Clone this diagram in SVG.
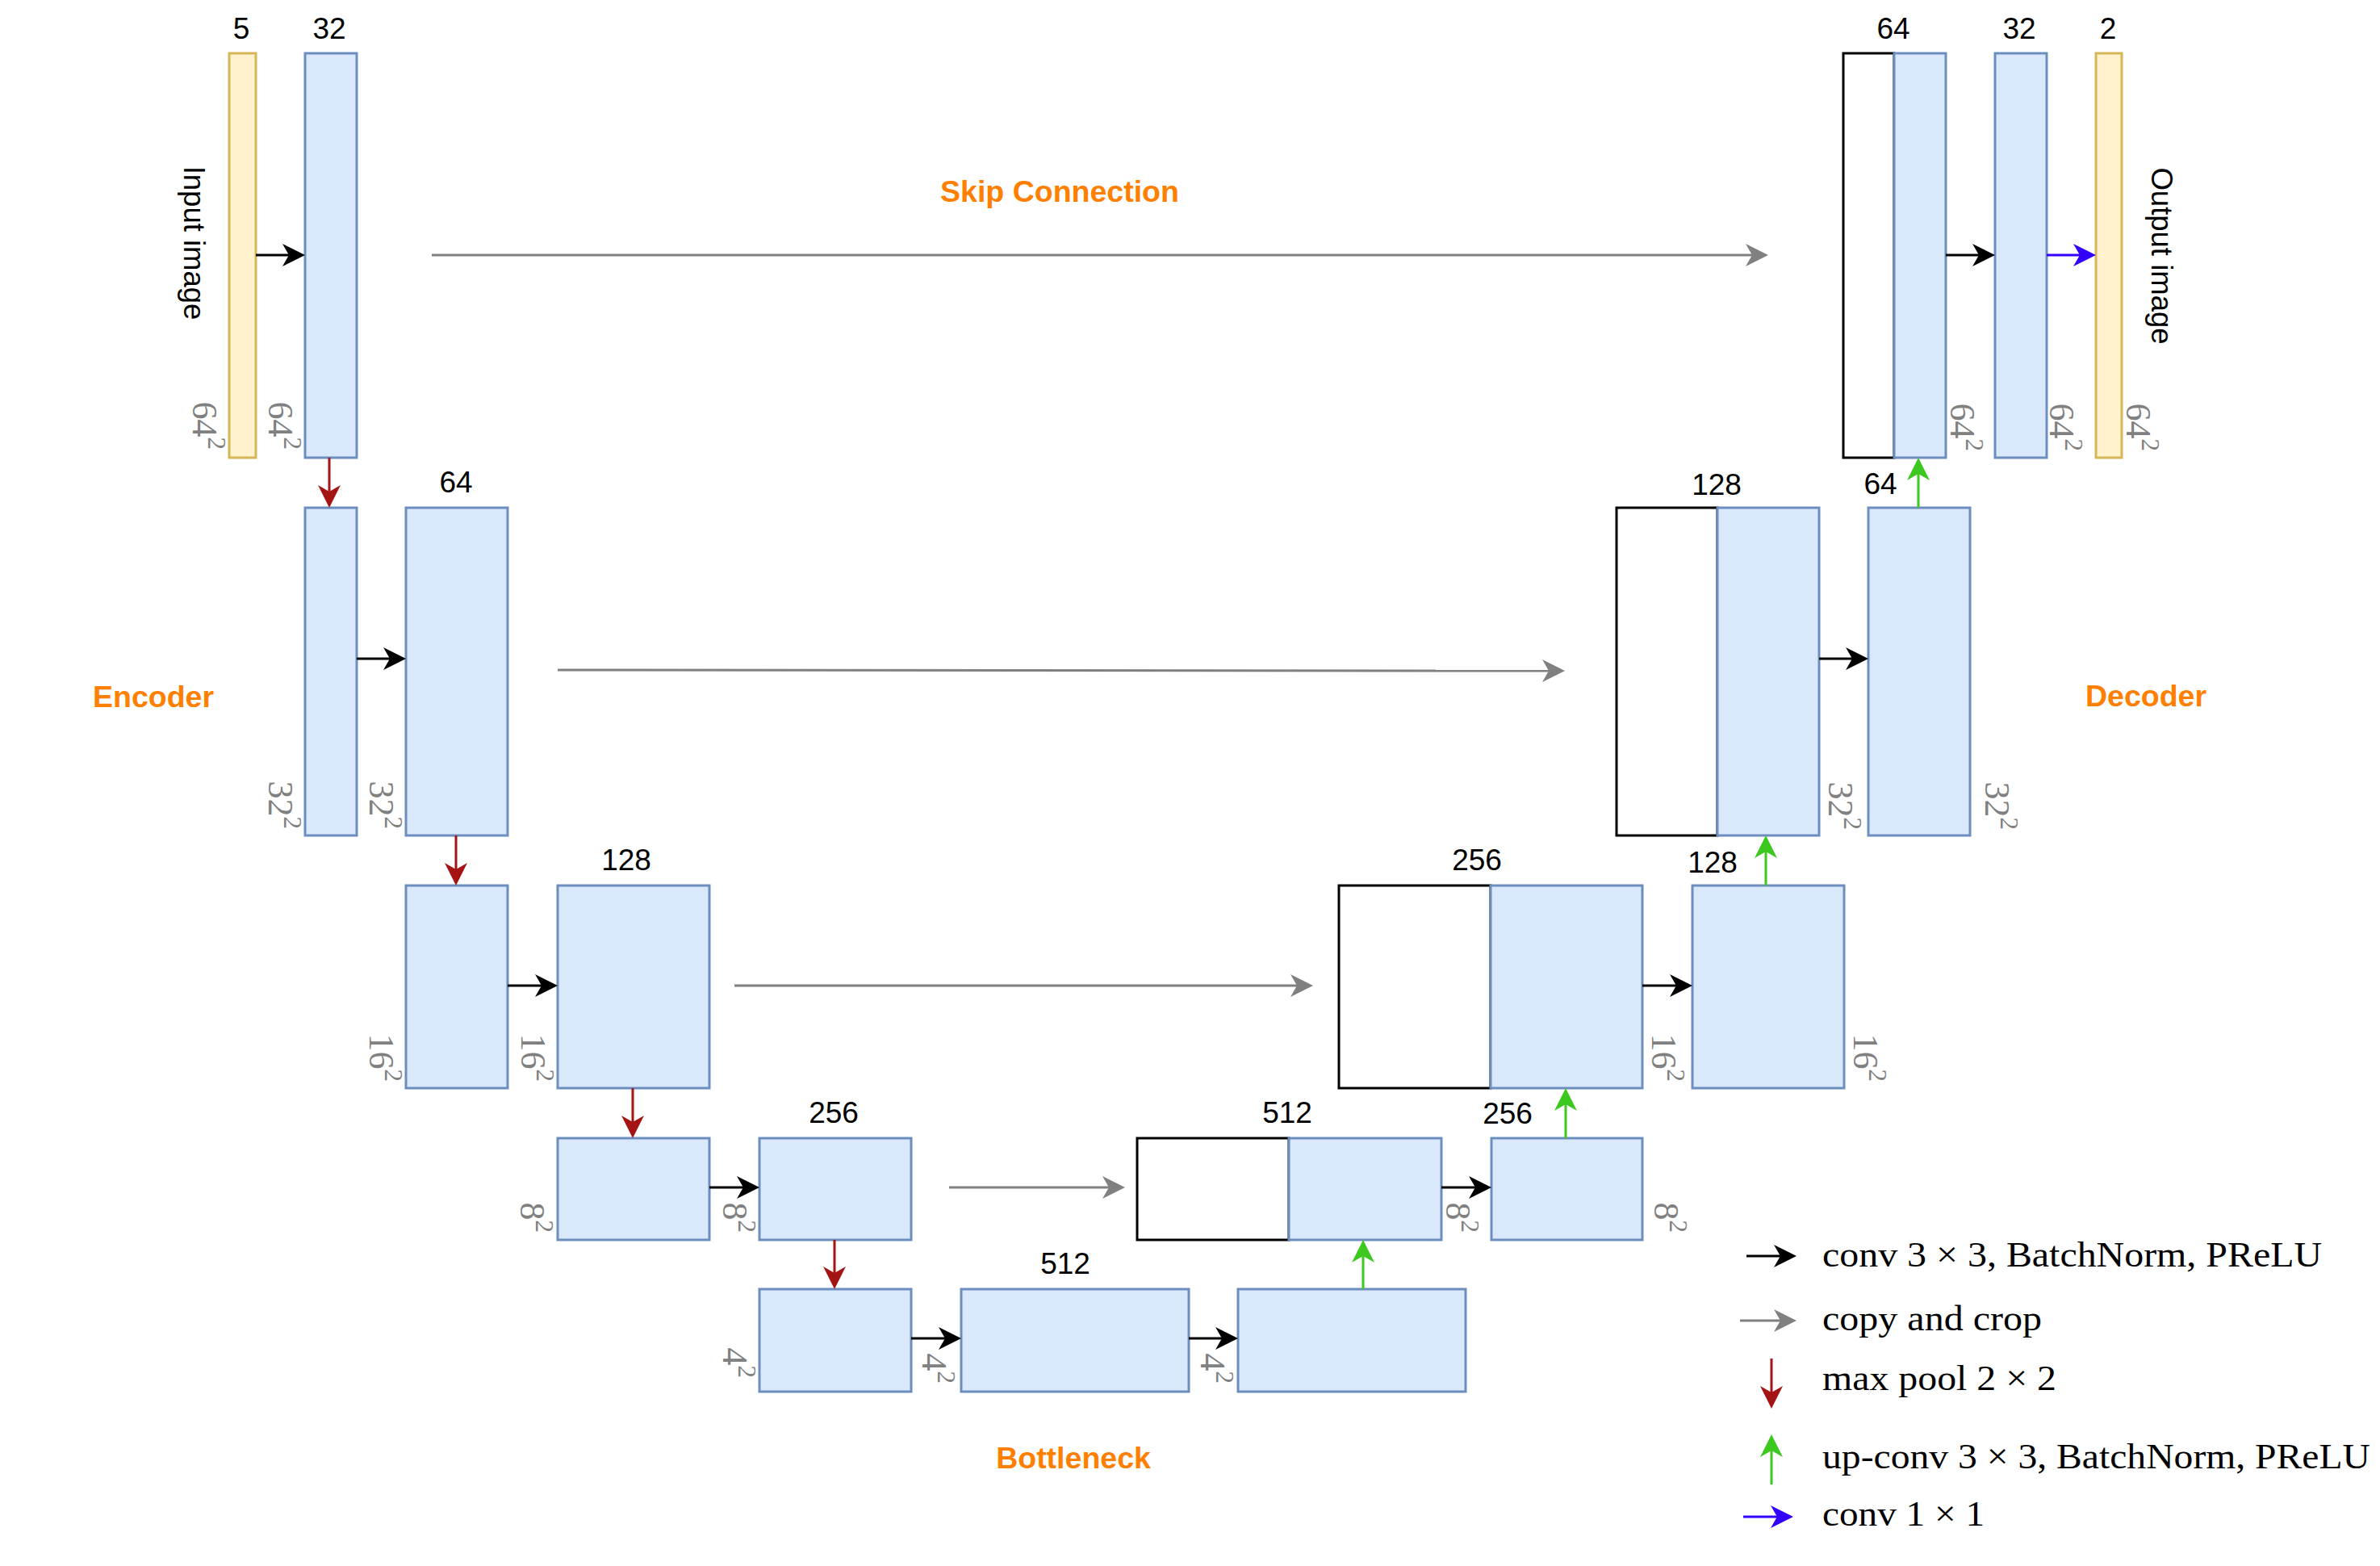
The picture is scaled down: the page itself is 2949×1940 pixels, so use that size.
<svg xmlns="http://www.w3.org/2000/svg" width="2949" height="1940" viewBox="0 0 2949 1940">
<style>
.bl{fill:#dae8fc;stroke:#6c8ebf;stroke-width:3}
.yl{fill:#fff2cc;stroke:#d6b656;stroke-width:3}
.wh{fill:#ffffff;stroke:#000000;stroke-width:3}
.num{font-family:"Liberation Sans",Arial,sans-serif;font-size:37px;fill:#000;text-anchor:middle}
.sec{font-family:"Liberation Sans",Arial,sans-serif;font-size:37.5px;font-weight:bold;fill:#ff8000;text-anchor:middle}
.dim{font-family:"Liberation Serif","Times New Roman",serif;font-size:44px;fill:#808080;text-anchor:end}
.sup{font-size:31px}
.leg{font-family:"Liberation Serif","Times New Roman",serif;font-size:44px;fill:#000}
.side{font-family:"Liberation Sans",Arial,sans-serif;font-size:36.5px;fill:#000;text-anchor:middle}
.k{stroke:#000;stroke-width:3;fill:none;marker-end:url(#ak)}
.g{stroke:#808080;stroke-width:3;fill:none;marker-end:url(#ag)}
.r{stroke:#a51414;stroke-width:3;fill:none;marker-end:url(#ar)}
.gr{stroke:#3cc81e;stroke-width:3;fill:none;marker-end:url(#agr)}
.b{stroke:#3300ff;stroke-width:3;fill:none;marker-end:url(#ab)}
</style>
<defs>
<marker id="ak" viewBox="0 0 28 28" refX="18" refY="14" markerWidth="28" markerHeight="28" markerUnits="userSpaceOnUse" orient="auto"><path d="M0,0 L28,14 L0,28 L8,14 Z" fill="#000"/></marker>
<marker id="ag" viewBox="0 0 28 28" refX="18" refY="14" markerWidth="28" markerHeight="28" markerUnits="userSpaceOnUse" orient="auto"><path d="M0,0 L28,14 L0,28 L8,14 Z" fill="#808080"/></marker>
<marker id="ar" viewBox="0 0 28 28" refX="18" refY="14" markerWidth="28" markerHeight="28" markerUnits="userSpaceOnUse" orient="auto"><path d="M0,0 L28,14 L0,28 L8,14 Z" fill="#a51414"/></marker>
<marker id="agr" viewBox="0 0 28 28" refX="18" refY="14" markerWidth="28" markerHeight="28" markerUnits="userSpaceOnUse" orient="auto"><path d="M0,0 L28,14 L0,28 L8,14 Z" fill="#3cc81e"/></marker>
<marker id="ab" viewBox="0 0 28 28" refX="18" refY="14" markerWidth="28" markerHeight="28" markerUnits="userSpaceOnUse" orient="auto"><path d="M0,0 L28,14 L0,28 L8,14 Z" fill="#3300ff"/></marker>
</defs>
<rect width="2949" height="1940" fill="#ffffff"/>

<!-- Encoder nodes -->
<g id="input">
<rect class="yl" x="284" y="66" width="33" height="501"/>
<text class="num" x="299" y="48">5</text>
<text class="side" transform="translate(228,301) rotate(90)">Input image</text>
<text class="dim" transform="translate(239,557) rotate(90)">64<tspan class="sup" dy="-19">2</tspan></text>
</g>
<g id="enc1">
<rect class="bl" x="378" y="66" width="64" height="501"/>
<text class="num" x="408" y="48">32</text>
<text class="dim" transform="translate(333,557) rotate(90)">64<tspan class="sup" dy="-19">2</tspan></text>
</g>
<g id="enc2a">
<rect class="bl" x="378" y="629" width="64" height="406"/>
<text class="dim" transform="translate(333,1027) rotate(90)">32<tspan class="sup" dy="-19">2</tspan></text>
</g>
<g id="enc2b">
<rect class="bl" x="503" y="629" width="126" height="406"/>
<text class="num" x="565" y="610">64</text>
<text class="dim" transform="translate(458,1027) rotate(90)">32<tspan class="sup" dy="-19">2</tspan></text>
</g>
<g id="enc3a">
<rect class="bl" x="503" y="1097" width="126" height="251"/>
<text class="dim" transform="translate(458,1340) rotate(90)">16<tspan class="sup" dy="-19">2</tspan></text>
</g>
<g id="enc3b">
<rect class="bl" x="691" y="1097" width="188" height="251"/>
<text class="num" x="776" y="1078">128</text>
<text class="dim" transform="translate(646,1340) rotate(90)">16<tspan class="sup" dy="-19">2</tspan></text>
</g>
<g id="enc4a">
<rect class="bl" x="691" y="1410" width="188" height="126"/>
<text class="dim" transform="translate(645,1527) rotate(90)">8<tspan class="sup" dy="-19">2</tspan></text>
</g>
<g id="enc4b">
<rect class="bl" x="941" y="1410" width="188" height="126"/>
<text class="num" x="1033" y="1391">256</text>
<text class="dim" transform="translate(896,1527) rotate(90)">8<tspan class="sup" dy="-19">2</tspan></text>
</g>

<!-- Bottleneck nodes -->
<g id="bott1">
<rect class="bl" x="941" y="1597" width="188" height="127"/>
<text class="dim" transform="translate(896,1707) rotate(90)">4<tspan class="sup" dy="-19">2</tspan></text>
</g>
<g id="bott2">
<rect class="bl" x="1191" y="1597" width="282" height="127"/>
<text class="num" x="1320" y="1578">512</text>
<text class="dim" transform="translate(1143,1714) rotate(90)">4<tspan class="sup" dy="-19">2</tspan></text>
</g>
<g id="bott3">
<rect class="bl" x="1534" y="1597" width="282" height="127"/>
<text class="dim" transform="translate(1488,1714) rotate(90)">4<tspan class="sup" dy="-19">2</tspan></text>
</g>

<!-- Decoder nodes -->
<g id="dec4a">
<rect class="wh" x="1409" y="1410" width="188" height="126"/>
<rect class="bl" x="1597" y="1410" width="189" height="126"/>
<text class="num" x="1595" y="1391">512</text>
<text class="dim" transform="translate(1792,1527) rotate(90)">8<tspan class="sup" dy="-19">2</tspan></text>
</g>
<g id="dec4b">
<rect class="bl" x="1848" y="1410" width="187" height="126"/>
<text class="num" x="1868" y="1392">256</text>
<text class="dim" transform="translate(2050,1527) rotate(90)">8<tspan class="sup" dy="-19">2</tspan></text>
</g>
<g id="dec3a">
<rect class="wh" x="1659" y="1097" width="188" height="251"/>
<rect class="bl" x="1847" y="1097" width="188" height="251"/>
<text class="num" x="1830" y="1078">256</text>
<text class="dim" transform="translate(2047,1340) rotate(90)">16<tspan class="sup" dy="-19">2</tspan></text>
</g>
<g id="dec3b">
<rect class="bl" x="2097" y="1097" width="188" height="251"/>
<text class="num" x="2122" y="1081">128</text>
<text class="dim" transform="translate(2297,1340) rotate(90)">16<tspan class="sup" dy="-19">2</tspan></text>
</g>
<g id="dec2a">
<rect class="wh" x="2003" y="629" width="125" height="406"/>
<rect class="bl" x="2128" y="629" width="126" height="406"/>
<text class="num" x="2127" y="613">128</text>
<text class="dim" transform="translate(2266,1028) rotate(90)">32<tspan class="sup" dy="-19">2</tspan></text>
</g>
<g id="dec2b">
<rect class="bl" x="2315" y="629" width="126" height="406"/>
<text class="num" x="2330" y="612">64</text>
<text class="dim" transform="translate(2460,1028) rotate(90)">32<tspan class="sup" dy="-19">2</tspan></text>
</g>
<g id="dec1a">
<rect class="wh" x="2284" y="66" width="63" height="501"/>
<rect class="bl" x="2347" y="66" width="64" height="501"/>
<text class="num" x="2346" y="48">64</text>
<text class="dim" transform="translate(2417,559) rotate(90)">64<tspan class="sup" dy="-19">2</tspan></text>
</g>
<g id="dec1b">
<rect class="bl" x="2472" y="66" width="64" height="501"/>
<text class="num" x="2502" y="48">32</text>
<text class="dim" transform="translate(2540,559) rotate(90)">64<tspan class="sup" dy="-19">2</tspan></text>
</g>
<g id="output">
<rect class="yl" x="2597" y="66" width="32" height="501"/>
<text class="num" x="2612" y="48">2</text>
<text class="side" transform="translate(2666,317) rotate(90)">Output image</text>
<text class="dim" transform="translate(2635,559) rotate(90)">64<tspan class="sup" dy="-19">2</tspan></text>
</g>

<!-- Section labels -->
<g id="labels">
<text class="sec" x="1313" y="250">Skip Connection</text>
<text class="sec" x="190" y="876">Encoder</text>
<text class="sec" x="2659" y="875">Decoder</text>
<text class="sec" x="1330" y="1819">Bottleneck</text>
</g>

<!-- Connectors -->
<g id="connectors">
<path class="k" d="M317,316 H368"/>
<path class="k" d="M2411,316 H2462"/>
<path class="k" d="M442,816 H493"/>
<path class="k" d="M2254,816 H2305"/>
<path class="k" d="M629,1221 H681"/>
<path class="k" d="M2035,1221 H2087"/>
<path class="k" d="M879,1471 H931"/>
<path class="k" d="M1786,1471 H1838"/>
<path class="k" d="M1129,1658 H1181"/>
<path class="k" d="M1473,1658 H1524"/>
<path class="b" d="M2536,316 H2587"/>
<path class="g" d="M535,316 H2181"/>
<path class="g" d="M691,830 L1929,831"/>
<path class="g" d="M910,1221 H1617"/>
<path class="g" d="M1176,1471 H1384"/>
<path class="r" d="M408,567 V619"/>
<path class="r" d="M565,1035 V1087"/>
<path class="r" d="M784,1348 V1400"/>
<path class="r" d="M1034,1536 V1587"/>
<path class="gr" d="M2377,629 V577"/>
<path class="gr" d="M2188,1097 V1045"/>
<path class="gr" d="M1940,1410 V1358"/>
<path class="gr" d="M1689,1597 V1546"/>
</g>

<!-- Legend -->
<g id="legend">
<path class="k" d="M2164,1556 H2216"/>
<path class="g" d="M2156,1636 H2216"/>
<path class="r" d="M2195,1683 V1735"/>
<path class="gr" d="M2195,1839 V1787"/>
<path class="b" d="M2160,1879 H2212"/>
<text class="leg" x="2258" y="1569" textLength="619" lengthAdjust="spacingAndGlyphs">conv 3 × 3, BatchNorm, PReLU</text>
<text class="leg" x="2258" y="1648" textLength="272" lengthAdjust="spacingAndGlyphs">copy and crop</text>
<text class="leg" x="2258" y="1722" textLength="290" lengthAdjust="spacingAndGlyphs">max pool 2 × 2</text>
<text class="leg" x="2258" y="1819" textLength="679" lengthAdjust="spacingAndGlyphs">up-conv 3 × 3, BatchNorm, PReLU</text>
<text class="leg" x="2258" y="1890" textLength="201" lengthAdjust="spacingAndGlyphs">conv 1 × 1</text>
</g>
</svg>
